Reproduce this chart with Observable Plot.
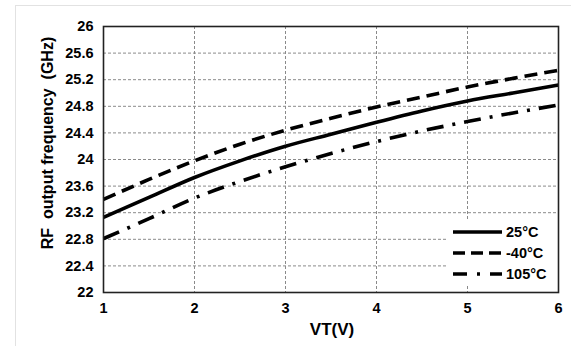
<!DOCTYPE html>
<html>
<head>
<meta charset="utf-8">
<script src="https://cdn.jsdelivr.net/npm/d3@7"></script>
<script src="https://cdn.jsdelivr.net/npm/@observablehq/plot@0.6"></script>
<style>
  html, body { margin: 0; padding: 0; background: #fff; }
  #wrap { position: relative; width: 571px; height: 346px; overflow: hidden; font-family: "Liberation Sans", Arial, sans-serif; font-weight: bold; color: #000; }
  #border { position: absolute; left: 15px; top: 5px; width: 600px; height: 400px; border: 1px solid #e2e2e2; }
  #chart { position: absolute; left: 0; top: 0; }
  .lbl { position: absolute; font-size: 17px; white-space: pre; }
  #ylab { left: 48px; top: 143px; transform: translate(-50%, -50%) rotate(-90deg); font-size: 16px; }
  #xlab { left: 332px; top: 330px; transform: translate(-50%, -50%); }
  #legend { position: absolute; left: 447px; top: 219px; width: 110px; height: 67px; background: #fff; }
  .row { position: absolute; left: 6px; height: 20px; display: flex; align-items: center; font-size: 14.5px; }
  .row svg { margin-right: 3px; }
</style>
</head>
<body>
<div id="wrap">
  <div id="border"></div>
  <div id="chart"></div>
  <div id="legend"></div>
  <div class="lbl" id="ylab">RF  output frequency  (GHz)</div>
  <div class="lbl" id="xlab">VT(V)</div>
</div>
<script>
// Data
const vt   = [1, 1.5, 2, 2.5, 3, 3.5, 4, 4.5, 5, 5.5, 6];
const f25  = [23.13, 23.43, 23.73, 23.98, 24.20, 24.38, 24.56, 24.73, 24.88, 25.00, 25.12];
const fm40 = [23.40, 23.70, 23.98, 24.23, 24.44, 24.62, 24.79, 24.94, 25.09, 25.22, 25.34];
const f105 = [22.81, 23.11, 23.42, 23.67, 23.89, 24.09, 24.27, 24.43, 24.57, 24.70, 24.82];
const seriesNames = ["25°C", "-40°C", "105°C"];
const xTicks = [1, 2, 3, 4, 5, 6];
const yTicks = [22, 22.4, 22.8, 23.2, 23.6, 24, 24.4, 24.8, 25.2, 25.6, 26];

const seriesValues = [f25, fm40, f105];
const dashes = [null, "13,7", "17,9,3,9"];

const data = seriesNames.flatMap((name, i) =>
  vt.map((v, j) => ({series: name, vt: v, f: seriesValues[i][j]}))
);

const lineMarks = seriesNames.map((name, i) =>
  Plot.line(data.filter(d => d.series === name), {
    x: "vt", y: "f", stroke: "#000", strokeWidth: 3.6,
    strokeDasharray: dashes[i], curve: "monotone-x", strokeLinecap: "butt"
  })
);

const fmt = d => String(+d.toFixed(1));

const chart = Plot.plot({
  width: 571,
  height: 346,
  marginLeft: 103,
  marginRight: 13,
  marginTop: 26,
  marginBottom: 54,
  style: {fontFamily: "'Liberation Sans', Arial, sans-serif", fontWeight: "bold", background: "transparent"},
  x: {domain: [1, 6]},
  y: {domain: [22, 26]},
  marks: [
    Plot.gridX(xTicks.slice(1, -1), {stroke: "#8a8a8a", strokeOpacity: 1, strokeDasharray: "3,2"}),
    Plot.gridY(yTicks.slice(1, -1), {stroke: "#8a8a8a", strokeOpacity: 1, strokeDasharray: "3,2"}),
    ...lineMarks,
    Plot.frame({stroke: "#222", strokeWidth: 1.6}),
    Plot.axisX(xTicks, {tickSize: 0, tickPadding: 10, fontSize: 14.5, fontWeight: "bold", label: null, tickFormat: d => String(d)}),
    Plot.axisY(yTicks, {tickSize: 0, tickPadding: 10, fontSize: 14.5, fontWeight: "bold", label: null, tickFormat: fmt})
  ]
});
document.getElementById("chart").appendChild(chart);

// Legend
const legend = document.getElementById("legend");
seriesNames.forEach((name, i) => {
  const row = document.createElement("div");
  row.className = "row";
  row.style.top = (3 + i * 21) + "px";
  const ns = "http://www.w3.org/2000/svg";
  const svg = document.createElementNS(ns, "svg");
  svg.setAttribute("width", 50);
  svg.setAttribute("height", 8);
  const ln = document.createElementNS(ns, "line");
  ln.setAttribute("x1", 0); ln.setAttribute("x2", 49);
  ln.setAttribute("y1", 4); ln.setAttribute("y2", 4);
  ln.setAttribute("stroke", "#000");
  ln.setAttribute("stroke-width", 3.6);
  if (dashes[i]) ln.setAttribute("stroke-dasharray", i === 1 ? "12,6" : "14,10,3,10");
  svg.appendChild(ln);
  row.appendChild(svg);
  const t = document.createElement("span");
  t.textContent = name;
  row.appendChild(t);
  legend.appendChild(row);
});
</script>
</body>
</html>
